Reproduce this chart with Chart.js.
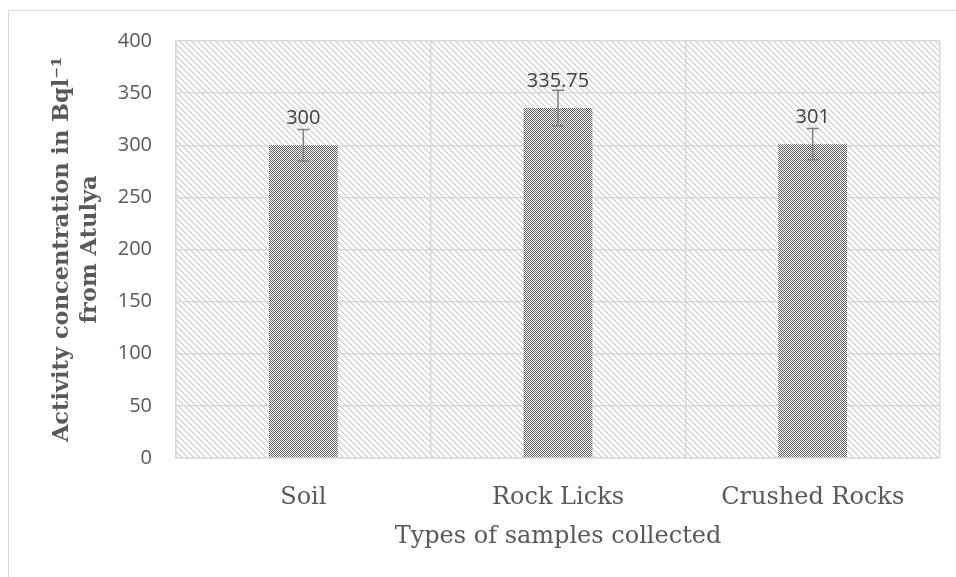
<!DOCTYPE html>
<html><head><meta charset="utf-8">
<script src="https://cdn.jsdelivr.net/npm/chart.js@4/dist/chart.umd.min.js"></script>
<style>
html,body{margin:0;padding:0;background:#fff;overflow:hidden}
#frame{position:absolute;left:8px;top:10px;width:1000px;height:1000px;border:1px solid #d9d9d9;box-sizing:border-box}
#wrap{position:absolute;left:0;top:0;width:956px;height:577px}
</style></head>
<body>
<div id="frame"></div>
<div id="wrap"><canvas id="c" width="956" height="577"></canvas></div>
<script>
const categories = ['Soil', 'Rock Licks', 'Crushed Rocks'];
const values = [300, 335.75, 301];
const errors = [15, 17, 15];
const valueLabels = ['300', '335.75', '301'];
const yMin = 0, yMax = 400, yStep = 50;
const xTitle = 'Types of samples collected';
const yTitle = ['Activity concentration in Bql\u207B\u00B9', 'from Atulya'];

function makePattern(size, fn) {
  const c = document.createElement('canvas');
  c.width = size; c.height = size;
  const g = c.getContext('2d');
  g.fillStyle = '#ffffff'; g.fillRect(0, 0, size, size);
  for (let y = 0; y < size; y++) for (let x = 0; x < size; x++) {
    const col = fn(x, y);
    if (col) { g.fillStyle = col; g.fillRect(x, y, 1, 1); }
  }
  return g.createPattern(c, 'repeat');
}
const hatch = makePattern(12, (x, y) => {
  const k = (x - y + 24) % 6;
  return k === 0 ? '#cdcdcd' : (k === 1 ? '#e4e4e4' : null);
});
const checker = makePattern(8, (x, y) => ((x + y) % 2 === 0 ? '#606060' : '#ffffff'));

const bgPlugin = {
  id: 'bg',
  beforeDraw(chart) {
    const a = chart.chartArea, ctx = chart.ctx;
    ctx.save();
    ctx.fillStyle = hatch;
    ctx.fillRect(a.left, a.top, a.right - a.left, a.bottom - a.top);
    ctx.restore();
  }
};
const errPlugin = {
  id: 'err',
  afterDatasetsDraw(chart) {
    const ctx = chart.ctx, ys = chart.scales.y;
    const meta = chart.getDatasetMeta(0);
    ctx.save();
    meta.data.forEach((bar, i) => {
      const x = bar.x;
      const top = ys.getPixelForValue(values[i] + errors[i]);
      const bot = ys.getPixelForValue(values[i] - errors[i]);
      ctx.strokeStyle = '#808080';
      ctx.lineWidth = 1.5;
      ctx.beginPath();
      ctx.moveTo(x, top); ctx.lineTo(x, bot);
      ctx.moveTo(x - 6, top); ctx.lineTo(x + 6, top);
      ctx.moveTo(x - 6, bot); ctx.lineTo(x + 6, bot);
      ctx.stroke();
      ctx.fillStyle = '#404040';
      ctx.font = '20px "Open Sans"';
      ctx.textAlign = 'center';
      ctx.textBaseline = 'middle';
      ctx.fillText(valueLabels[i], x, ys.getPixelForValue(values[i]) - 27);
    });
    ctx.restore();
  }
};

new Chart(document.getElementById('c'), {
  type: 'bar',
  data: {
    labels: categories,
    datasets: [{
      data: values,
      backgroundColor: checker,
      borderWidth: 0,
      categoryPercentage: 1,
      barPercentage: 0.27
    }]
  },
  options: {
    responsive: false,
    animation: false,
    devicePixelRatio: 1,
    layout: { padding: { top: 41, right: 16, left: 0, bottom: 0 } },
    plugins: { legend: { display: false }, tooltip: { enabled: false } },
    scales: {
      x: {
        grid: { color: '#d9d9d9', lineWidth: 1.5, drawTicks: false, offset: true },
        border: { color: '#d9d9d9', width: 1.5 },
        ticks: { color: '#595959', font: { family: 'DejaVu Serif', size: 24 }, padding: 25 },
        title: { display: true, text: xTitle, color: '#595959', font: { family: 'DejaVu Serif', size: 24 }, padding: { top: 0, bottom: 26 } },
        afterFit(s) { s.height = 119; }
      },
      y: {
        min: yMin, max: yMax,
        grid: { color: '#d9d9d9', lineWidth: 1.5, drawTicks: false },
        border: { color: '#d9d9d9', width: 1.5 },
        ticks: { stepSize: yStep, color: '#595959', font: { family: 'Open Sans', size: 20 }, padding: 24 },
        title: { display: true, text: yTitle, color: '#595959', font: { family: 'DejaVu Serif', size: 22.5, weight: 'bold', lineHeight: 1.25 }, padding: { top: 48, bottom: 0 } },
        afterFit(s) { s.width = 176; }
      }
    }
  },
  plugins: [bgPlugin, errPlugin]
});
</script>
</body></html>
